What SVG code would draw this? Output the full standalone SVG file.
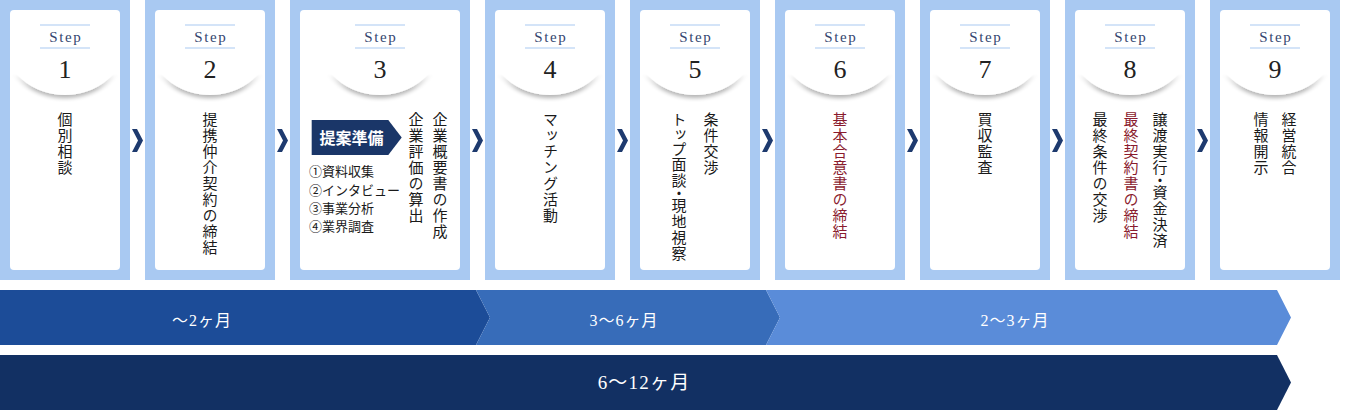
<svg xmlns="http://www.w3.org/2000/svg" xmlns:xlink="http://www.w3.org/1999/xlink" width="1346" height="410" viewBox="0 0 1346 410">
<style>
.outer{fill:#a9c9f2}
.inner{fill:#fff}
.hl{stroke:#a9c9f2;stroke-width:1.2}
.step{font-family:"Liberation Serif","DejaVu Serif",serif;font-size:15px;fill:#34466f;letter-spacing:1.6px;text-anchor:middle}
.num{font-family:"Liberation Serif","DejaVu Serif",serif;font-size:26px;fill:#222;text-anchor:middle}
.vt{font-family:"Noto Sans CJK JP","Noto Sans CJK SC",sans-serif;font-size:15px;writing-mode:vertical-rl;letter-spacing:1px;fill:#1a1a1a}
.red{fill:#8a1b2e}
.li{font-family:"Noto Sans CJK JP","Noto Sans CJK SC",sans-serif;font-size:13px;fill:#1a1a1a}
.badge{fill:#1a3668}
.bt{font-family:"Noto Sans CJK JP","Noto Sans CJK SC",sans-serif;font-size:16px;font-weight:bold;fill:#fff;text-anchor:middle}
.chev{fill:#1e3a6e}
.bar{font-family:"Liberation Serif","Noto Sans CJK JP",serif;fill:#fff;text-anchor:middle}
.tight{letter-spacing:-2.5px}
.kana{letter-spacing:0}
</style>
<defs>
<filter id="arcShadow" x="-30%" y="-30%" width="160%" height="170%">
<feGaussianBlur in="SourceAlpha" stdDeviation="2.2"/>
<feOffset dy="3"/>
<feComponentTransfer><feFuncA type="linear" slope="0.3"/></feComponentTransfer>
<feMerge><feMergeNode/><feMergeNode in="SourceGraphic"/></feMerge>
</filter>
<linearGradient id="fadeG" x1="0" y1="74" x2="0" y2="90" gradientUnits="userSpaceOnUse">
<stop offset="0" stop-color="#000"/><stop offset="1" stop-color="#fff"/>
</linearGradient>
<mask id="arcMask" maskUnits="userSpaceOnUse" x="-56" y="0" width="112" height="120">
<rect x="-56" y="0" width="112" height="120" fill="url(#fadeG)"/>
</mask>
<g id="arc"><g mask="url(#arcMask)"><ellipse cx="0" cy="43" rx="60" ry="52" fill="#fff" filter="url(#arcShadow)"/></g></g>
<g id="hdr">
<line class="hl" x1="-25" y1="25" x2="25" y2="25"/>
<line class="hl" x1="-25" y1="48" x2="25" y2="48"/>
<text class="step" x="0.8" y="41.5">Step</text>
</g>
</defs>

<g id="step1">
<rect class="outer" x="0" y="0" width="130" height="280"/>
<rect class="inner" x="10" y="10" width="110" height="260" rx="4"/>
<use xlink:href="#arc" x="65"/><use xlink:href="#hdr" x="65"/>
<text class="num" x="65" y="77.5">1</text>
<text class="vt" x="65" y="112">個別相談</text>
</g>
<g id="step2">
<rect class="outer" x="145" y="0" width="130" height="280"/>
<rect class="inner" x="155" y="10" width="110" height="260" rx="4"/>
<use xlink:href="#arc" x="210"/><use xlink:href="#hdr" x="210"/>
<text class="num" x="210" y="77.5">2</text>
<text class="vt" x="210" y="112">提携仲介契約の締結</text>
</g>
<g id="step3">
<rect class="outer" x="290" y="0" width="180" height="280"/>
<rect class="inner" x="300" y="10" width="160" height="260" rx="4"/>
<use xlink:href="#arc" x="380"/><use xlink:href="#hdr" x="380"/>
<text class="num" x="380" y="77.5">3</text>
<polygon class="badge" points="311.7,120 388.3,120 401.7,137.5 388.3,155 311.7,155"/>
<text class="bt" x="351.5" y="143.5">提案準備</text>
<text class="li" x="309" y="176">①資料収集</text>
<text class="li" x="309" y="194.5">②インタビュー</text>
<text class="li" x="309" y="212.5">③事業分析</text>
<text class="li" x="309" y="231">④業界調査</text>
<text class="vt" x="440" y="112">企業概要書の作成</text>
<text class="vt" x="416" y="112">企業評価の算出</text>
</g>
<g id="step4">
<rect class="outer" x="485" y="0" width="130" height="280"/>
<rect class="inner" x="495" y="10" width="110" height="260" rx="4"/>
<use xlink:href="#arc" x="550"/><use xlink:href="#hdr" x="550"/>
<text class="num" x="550" y="77.5">4</text>
<text class="vt" x="550.5" y="112" letter-spacing="0.5">マッチング活動</text>
</g>
<g id="step5">
<rect class="outer" x="630" y="0" width="130" height="280"/>
<rect class="inner" x="640" y="10" width="110" height="260" rx="4"/>
<use xlink:href="#arc" x="695"/><use xlink:href="#hdr" x="695"/>
<text class="num" x="695" y="77.5">5</text>
<text class="vt" x="711" y="112">条件交渉</text>
<text class="vt" x="679" y="112"><tspan class="kana">トップ</tspan>面<tspan class="tight">談・</tspan>現地視察</text>
</g>
<g id="step6">
<rect class="outer" x="775" y="0" width="130" height="280"/>
<rect class="inner" x="785" y="10" width="110" height="260" rx="4"/>
<use xlink:href="#arc" x="840"/><use xlink:href="#hdr" x="840"/>
<text class="num" x="840" y="77.5">6</text>
<text class="vt red" x="840" y="112">基本合意書の締結</text>
</g>
<g id="step7">
<rect class="outer" x="920" y="0" width="130" height="280"/>
<rect class="inner" x="930" y="10" width="110" height="260" rx="4"/>
<use xlink:href="#arc" x="985"/><use xlink:href="#hdr" x="985"/>
<text class="num" x="985" y="77.5">7</text>
<text class="vt" x="985" y="112">買収監査</text>
</g>
<g id="step8">
<rect class="outer" x="1065" y="0" width="130" height="280"/>
<rect class="inner" x="1075" y="10" width="110" height="260" rx="4"/>
<use xlink:href="#arc" x="1130"/><use xlink:href="#hdr" x="1130"/>
<text class="num" x="1130" y="77.5">8</text>
<text class="vt" x="1160" y="112">譲渡実<tspan class="tight">行・</tspan>資金決済</text>
<text class="vt red" x="1131" y="112">最終契約書の締結</text>
<text class="vt" x="1100" y="112">最終条件の交渉</text>
</g>
<g id="step9">
<rect class="outer" x="1210" y="0" width="130" height="280"/>
<rect class="inner" x="1220" y="10" width="110" height="260" rx="4"/>
<use xlink:href="#arc" x="1275"/><use xlink:href="#hdr" x="1275"/>
<text class="num" x="1275" y="77.5">9</text>
<text class="vt" x="1289" y="112">経営統合</text>
<text class="vt" x="1261" y="112">情報開示</text>
</g>

<g id="connectors">
<path class="chev" d="M132,129h5l6,11.5l-6,11.5h-5l6,-11.5z"/>
<path class="chev" d="M277,129h5l6,11.5l-6,11.5h-5l6,-11.5z"/>
<path class="chev" d="M472,129h5l6,11.5l-6,11.5h-5l6,-11.5z"/>
<path class="chev" d="M617,129h5l6,11.5l-6,11.5h-5l6,-11.5z"/>
<path class="chev" d="M762,129h5l6,11.5l-6,11.5h-5l6,-11.5z"/>
<path class="chev" d="M907,129h5l6,11.5l-6,11.5h-5l6,-11.5z"/>
<path class="chev" d="M1052,129h5l6,11.5l-6,11.5h-5l6,-11.5z"/>
<path class="chev" d="M1197,129h5l6,11.5l-6,11.5h-5l6,-11.5z"/>
</g>

<g id="timeline">
<path fill="#1c4c98" d="M0,290H476L490,317.5L476,345H0Z"/>
<path fill="#376cb9" d="M476,290H766L780,317.5L766,345H476L490,317.5Z"/>
<path fill="#5a8cd9" d="M766,290H1277L1291,317.5L1277,345H766L780,317.5Z"/>
<path fill="#123063" d="M0,355H1277L1291,382.5L1277,410H0Z"/>
<text class="bar" x="202" y="326" font-size="16" letter-spacing="1">〜2ヶ月</text>
<text class="bar" x="624" y="326" font-size="16" letter-spacing="1">3〜6ヶ月</text>
<text class="bar" x="1015" y="326" font-size="16" letter-spacing="1">2〜3ヶ月</text>
<text class="bar" x="644" y="389" font-size="19" letter-spacing="1.2">6〜12ヶ月</text>
</g>
</svg>
